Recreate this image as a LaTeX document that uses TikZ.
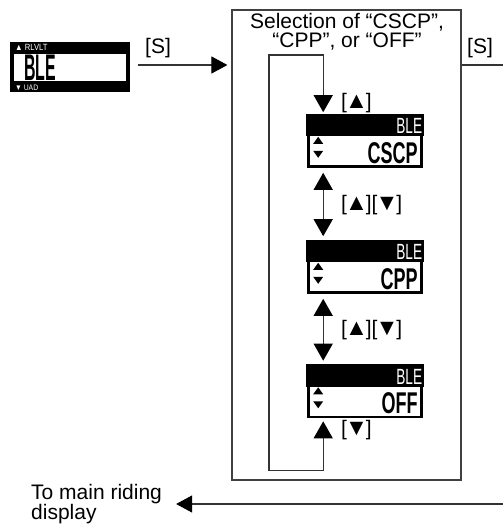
\documentclass[tikz,border=0pt]{standalone}
\usepackage{fontspec}
\usepackage{graphicx}
\setmainfont{Liberation Sans}
\usetikzlibrary{arrows.meta,calc}
\newcommand{\tup}{\kern-2pt\scalebox{1.1}{▲}\kern-2pt}
\newcommand{\tdn}{\kern-2pt\scalebox{1.1}{▼}\kern-2pt}
\newcommand{\dspbig}[1]{\scalebox{0.6}[1]{\fontsize{30}{30}\selectfont\bfseries #1}}
\newcommand{\dspband}[1]{\scalebox{0.62}[1]{\fontsize{22}{22}\selectfont #1}}
\begin{document}
\begin{tikzpicture}[x=1pt,y=-1pt,
  lbl/.style={font=\fontsize{21}{19}\selectfont, inner sep=0pt},
  conn/.style={draw=black!80, line width=1.1pt},
  arr/.style={conn, -{Triangle[length=16pt,width=17pt,color=black]}},
  dblarr/.style={conn, {Triangle[length=17pt,width=19pt,color=black]}-{Triangle[length=17pt,width=19pt,color=black]}},
  dispbox/.style={draw=black, line width=2.6pt, fill=white, minimum width=113pt, minimum height=50pt, inner sep=0pt},
  bandtxt/.style={text=white, inner sep=0pt, anchor=east},
  bigtxt/.style={inner sep=0pt, anchor=east}
]
\useasboundingbox (0,0) rectangle (502,526);
\fill[white] (0,0) rectangle (502,526);

% left display
\node[draw=black, line width=3.5pt, fill=white, minimum width=116pt, minimum height=31pt, inner sep=0pt] (ld) at (70,67.5) {};
\fill[black] (10,42) rectangle (130,53);
\fill[black] (10,82) rectangle (130,92);
\node[text=white, inner sep=0pt, anchor=west] (ldtop) at (15,47.5) {\scalebox{0.85}[1]{\fontsize{9}{9}\selectfont ▲ RLVLT}};
\node[text=white, inner sep=0pt, anchor=west] (ldbot) at (15,88) {\scalebox{0.85}[1]{\fontsize{8}{8}\selectfont ▼ UAD}};
\node[inner sep=0pt, anchor=west] (ldt) at (24,67.5) {\scalebox{0.43}[1]{\fontsize{37}{37}\selectfont\bfseries BLE}};

\coordinate (sy) at (0,65);

% main box
\node[draw=black!75, line width=1.2pt, minimum width=229pt, minimum height=470pt, inner sep=0pt] (box) at (346.5,245) {};
\node[lbl, align=center, anchor=north] (title) at (347,13) {Selection of “CSCP”,\\“CPP”, or “OFF”};

% [S] labels
\node[lbl] (s1) at (158,48) {[S]};
\node[lbl] (s2) at (480,48) {[S]};

% left arrow
\draw[arr] ($(ld.east |- sy)+(8,0)$) -- ($(box.west |- sy)+(-4,0)$);

% displays
\foreach \n/\y/\t in {d1/141.5/CSCP, d2/267.5/CPP, d3/392/OFF}{
  \node[dispbox] (\n) at (365,\y) {};
  \fill[black] ($(\n.north west)+(-1.3,-1.3)$) rectangle ($(\n.north east)+(1.3,21)$);
  \node[bandtxt] at ($(\n.north east)+(-0.5,11)$) {\dspband{BLE}};
  \node[bigtxt] at ($(\n.south east)+(-5,-15)$) {\dspbig{\t}};
  \fill[black] ($(\n.south west)+(6,-24)$) -- ++(10,0) -- ++(-5,-7) -- cycle;
  \fill[black] ($(\n.south west)+(6,-17)$) -- ++(10,0) -- ++(-5,7) -- cycle;
}

% double arrows
\draw[dblarr] ($(d1.south west)+(16,5)$) -- ($(d2.north west)+(16,-5)$);
\draw[dblarr] ($(d2.south west)+(16,5)$) -- ($(d3.north west)+(16,-5)$);
\node[lbl, anchor=west] (l1) at (341,205) {[\tup][\tdn]};
\node[lbl, anchor=west] (l2) at (341,330) {[\tup][\tdn]};

% loop
\coordinate (lbr) at ($(d3.south west)+(16,52)$);
\coordinate (lbl) at (269,469);
\coordinate (ltl) at (269,55);
\coordinate (ltr) at ($(d1.north west |- ltl)+(16,0)$);
\draw[dblarr]
  ($(d3.south west)+(16,3)$) -- (lbr) -- (lbr -| lbl) -- (ltl) -- (ltr) -- ($(d1.north west)+(16,-3)$);
\node[lbl, anchor=west] (lu) at (341,103) {[\tup]};
\node[lbl, anchor=west] (ld2) at (341,430) {[\tdn]};

% return path
\node[lbl, align=left, anchor=west, font=\fontsize{21}{20}\selectfont] (tm) at (31,504) {To main riding\\display};
\coordinate (rc1) at (504,65);
\coordinate (rc2) at (504,504);
\draw[arr] (box.east |- sy) -- (rc1) -- (rc2) -- ($(tm.east |- rc2)+(14,0)$);
\end{tikzpicture}
\end{document}
